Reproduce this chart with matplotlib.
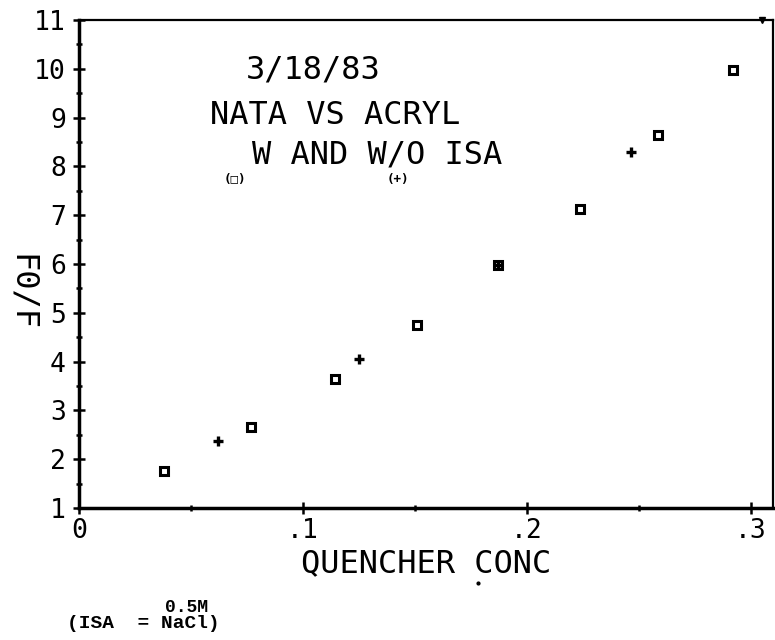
import matplotlib
matplotlib.use("Agg")
import matplotlib.pyplot as plt

# ---- data ----
with_isa_x = [0.038, 0.077, 0.1145, 0.1507, 0.187, 0.2236, 0.2585, 0.292]
with_isa_y = [1.76, 2.67, 3.64, 4.75, 5.97, 7.13, 8.64, 9.98]
without_isa_x = [0.062, 0.125, 0.187, 0.2464]
without_isa_y = [2.38, 4.05, 5.98, 8.30]

x_ticks = [0, 0.1, 0.2, 0.3]
x_tick_labels = ["0", ".1", ".2", ".3"]
y_ticks = list(range(1, 12))
y_tick_labels = [str(v) for v in y_ticks]

title_lines = ["3/18/83", "NATA VS ACRYL", "W AND W/O ISA"]
x_label = "QUENCHER CONC"
y_label = "F0/F"

W, H = 775, 640
fig = plt.figure(figsize=(W / 100, H / 100), dpi=100)
fig.patch.set_facecolor("white")

# axes box in pixels
ax_l, ax_r, ax_t, ax_b = 79, 773, 20, 508
ax = fig.add_axes([ax_l / W, 1 - ax_b / H, (ax_r - ax_l) / W, (ax_b - ax_t) / H])
ax.set_xlim(0, 0.3098)
ax.set_ylim(1, 11)

mono = ["DejaVu Sans Mono", "DejaVu Sans"]

for side, lw in [("left", 2.5), ("bottom", 2.5), ("top", 1.6), ("right", 1.6)]:
    ax.spines[side].set_linewidth(lw)
    ax.spines[side].set_color("black")

ax.set_xticks(x_ticks)
ax.set_xticklabels(x_tick_labels)
ax.set_yticks(y_ticks)
ax.set_yticklabels(y_tick_labels)
ax.set_xticks([0.05, 0.15, 0.25], minor=True)
ax.set_yticks([v + 0.5 for v in y_ticks[:-1]], minor=True)
ax.tick_params(which="major", direction="inout", length=9, width=1.8,
               labelsize=19, pad=5)
ax.tick_params(which="minor", direction="inout", length=4.5, width=1.8)
ax.tick_params(axis="x", which="major", pad=3)
ax.tick_params(top=False, right=False, which="both")
for lab in ax.get_xticklabels() + ax.get_yticklabels():
    lab.set_family(mono)

ax.plot(with_isa_x, with_isa_y, linestyle="none", marker="s", markersize=5.2,
        markeredgewidth=2.2, markerfacecolor="white", markeredgecolor="black",
        clip_on=False)
ax.plot(without_isa_x, without_isa_y, linestyle="none", marker="+",
        markersize=7, markeredgewidth=2.4, color="black", clip_on=False)

# small pen mark at top right corner
ax.plot([0.984], [1.0], marker="v", markersize=5, color="black",
        transform=ax.transAxes, clip_on=False)

def fx(px):
    return px / W

def fy(py):
    return 1 - py / H

# title texts inside the plot
fig.text(fx(313), fy(70), title_lines[0], family=mono, fontsize=23,
         ha="center", va="center")
fig.text(fx(335), fy(116), title_lines[1], family=mono, fontsize=23,
         ha="center", va="center")
fig.text(fx(377), fy(155), title_lines[2], family=mono, fontsize=23,
         ha="center", va="center")
fig.text(fx(235), fy(179), "(\u25a1)", family=mono, fontsize=9,
         fontweight="bold", ha="center", va="center")
fig.text(fx(398), fy(179), "(+)", family=mono, fontsize=9,
         fontweight="bold", ha="center", va="center")

# axis labels
fig.text(fx(426), fy(564), x_label, family=mono, fontsize=23,
         ha="center", va="center")
fig.text(fx(21), fy(292), y_label, family=mono, fontsize=23,
         ha="center", va="center", rotation=270)

# typed annotation below
fig.text(fx(186), fy(607), "0.5M", family=["Liberation Mono"], fontsize=13,
         fontweight="bold", ha="center", va="center")
fig.text(fx(67), fy(623), "(ISA  = NaCl)", family=["Liberation Mono"],
         fontsize=14, fontweight="bold", ha="left", va="center")

# stray dot below label
fig.add_artist(plt.Line2D([fx(478)], [fy(583)], marker="o", markersize=2,
                          color="black", transform=fig.transFigure))

fig.savefig("out.png", dpi=100, facecolor="white")
